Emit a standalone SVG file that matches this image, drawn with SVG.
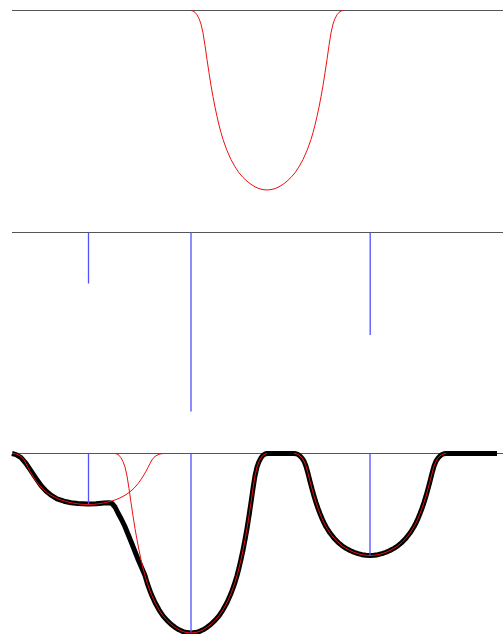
<svg xmlns="http://www.w3.org/2000/svg" width="503" height="634" viewBox="0 0 503 634">
<style>
.base{stroke:#555;stroke-width:1;fill:none}
.imp{stroke:#5050ff;stroke-width:1.3;fill:none}
.ker{stroke:#ee1111;stroke-width:1;fill:none;vector-effect:non-scaling-stroke;stroke-linejoin:round}
.sum{stroke:#000;stroke-width:5;fill:none;stroke-linejoin:round;stroke-linecap:butt}
</style>
<defs>
<path id="K" class="ker" vector-effect="non-scaling-stroke" d="M-76,0 L-74,0.5 L-72,1.8 L-70,4.3 L-68,8.1 L-66,13.5 L-64,22.4 L-62,35 L-60,49 L-58,62.3 L-56,75 L-54,86.2 L-52,96.6 L-50,105.9 L-48,114.5 L-46,122.1 L-44,128.9 L-42,134.6 L-40,140 L-36,149 L-32,156.3 L-28,162.3 L-24,166.9 L-20,170.7 L-16,173.8 L-12,176.3 L-8,178.1 L-4,179.1 L0,179.5 L4,179.1 L8,178.1 L12,176.3 L16,173.8 L20,170.7 L24,166.9 L28,162.3 L32,156.3 L36,149 L40,140 L42,134.6 L44,128.9 L46,122.1 L48,114.5 L50,105.9 L52,96.6 L54,86.2 L56,75 L58,62.3 L60,49 L62,35 L64,22.4 L66,13.5 L68,8.1 L70,4.3 L72,1.8 L74,0.5 L76,0"/>
</defs>
<rect width="503" height="634" fill="#fff"/>
<g id="panel-kernel">
<line class="base" x1="12" y1="10.5" x2="503" y2="10.5"/>
<use href="#K" transform="translate(267,10.5)"/>
</g>
<g id="panel-impulses">
<line class="base" x1="12" y1="232.5" x2="503" y2="232.5"/>
<line class="imp" x1="88.5" y1="232.5" x2="88.5" y2="283.5"/>
<line class="imp" x1="191" y1="232.5" x2="191" y2="411.5"/>
<line class="imp" x1="370.2" y1="232.5" x2="370.2" y2="335"/>
</g>
<g id="panel-sum">
<line class="base" x1="12" y1="453.5" x2="503" y2="453.5"/>
<path class="sum" d="M12,453.5 L16,454.6 L21,457.7 L26,463.5 L31,470.8 L36,478.3 L41,485.5 L46,491 L51,495.2 L57,498.8 L64,501.2 L71,502.7 L78,503.5 L88,504 L96,503.7 L104,503 L109,502.8 L112,503.5 L115,507 L118,513 L121.5,519.5 L125,526.7 L131.7,543.3 L138.3,560 L145,575.6 L147,582.4 L149,588.1 L151,593.5 L155,602.5 L159,609.8 L163,615.8 L167,620.4 L171,624.2 L175,627.3 L179,629.8 L183,631.6 L187,632.6 L191,633 L195,632.6 L199,631.6 L203,629.8 L207,627.3 L211,624.2 L215,620.4 L219,615.8 L223,609.8 L227,602.5 L231,593.5 L233,588.1 L235,582.4 L237,575.6 L239,568 L241,559.4 L243,550.1 L245,539.7 L247,528.5 L249,515.8 L251,502.5 L253,488.5 L255,475.9 L257,467 L259,461.6 L261,457.8 L263,455.3 L265,454 L267,453.5 L294,453.5 L296,453.78 L298,454.52 L300,455.94 L302,458.1 L304,461.17 L306,466.23 L308,473.39 L310,481.34 L312,488.9 L314,496.1 L316,502.48 L318,508.39 L320,513.67 L322,518.56 L324,522.88 L326,526.74 L330,533.05 L334,538.16 L338,542.31 L342,545.72 L346,548.33 L350,550.49 L354,552.25 L358,553.67 L362,554.7 L366,555.27 L370,555.49 L374,555.27 L378,554.7 L382,553.67 L386,552.25 L390,550.49 L394,548.33 L398,545.72 L402,542.31 L406,538.16 L410,533.05 L414,526.74 L416,522.88 L418,518.56 L420,513.67 L422,508.39 L424,502.48 L426,496.1 L428,488.9 L430,481.34 L432,473.39 L434,466.23 L436,461.17 L438,458.1 L440,455.94 L442,454.52 L444,453.78 L446,453.5 L497,453.5"/>
<use href="#K" transform="translate(88,453.5) scale(1,0.2841)"/>
<use href="#K" transform="translate(191,453.5)"/>
<use href="#K" transform="translate(370,453.5) scale(1,0.5682)"/>
<line class="imp" x1="88.5" y1="453.5" x2="88.5" y2="504"/>
<line class="imp" x1="191" y1="453.5" x2="191" y2="632.5"/>
<line class="imp" x1="370" y1="453.5" x2="370" y2="555"/>
</g>
</svg>
